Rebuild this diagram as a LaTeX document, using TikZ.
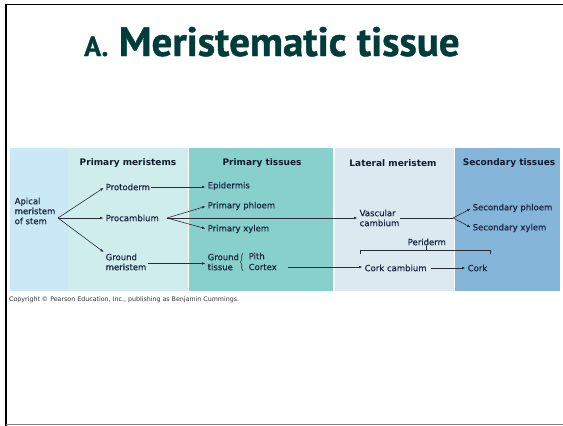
\documentclass[tikz,border=0pt]{standalone}
\usepackage{fontspec}
\setmainfont{DejaVu Sans}
\newfontfamily\titlefont[FakeBold=1]{PT Sans}
\newfontfamily\lblfont[FakeBold=0.6]{DejaVu Sans}
\usetikzlibrary{arrows.meta,calc,decorations.pathreplacing}
\definecolor{capx}{HTML}{CBE8F6}
\definecolor{cpm}{HTML}{CFEDEC}
\definecolor{cpt}{HTML}{88D0CC}
\definecolor{clm}{HTML}{DCE9F1}
\definecolor{cst}{HTML}{86B5DA}
\definecolor{ctxt}{HTML}{1A2640}
\definecolor{chd}{HTML}{131A2C}
\definecolor{cline}{HTML}{262C38}
\definecolor{ctitle}{HTML}{003D3A}

\begin{document}
\begin{tikzpicture}[
  x=1pt, y=-1pt,
  font=\lblfont\fontsize{8.5}{10}\selectfont,
  lbl/.style={anchor=west, inner sep=0.5pt, align=left, text=ctxt},
  hdr/.style={font=\rmfamily\fontsize{9}{10}\selectfont\bfseries, text=chd, inner sep=0pt},
  yields/.style={-{Latex[length=3.5pt,width=2.6pt]}, line width=0.6pt, draw=cline, shorten >=1.5pt},
  plain/.style={line width=0.6pt, draw=cline},
]
\useasboundingbox (0,0) rectangle (563,426);

% ------------------------------------------------------------------ slide frame and title
\draw[line width=2pt] (6,4) -- (6,426);
\draw[line width=1.5pt] (5,4.5) -- (563,4.5);
\draw[gray, line width=1pt] (6,424.5) -- (563,424.5);
\node[anchor=base west, inner sep=0pt, text=ctitle, font=\titlefont\bfseries\fontsize{41}{41}\selectfont]
  (title) at (84,56) {{\fontsize{28}{28}\selectfont A.} Meristematic tissue};

% ------------------------------------------------------------------ bands
\fill[capx] (10,148) rectangle (68,291);
\fill[cpm]  (68,148) rectangle (188,291);
\fill[cpt]  (189,148) rectangle (333,291);
\fill[clm]  (335,148) rectangle (454,291);
\fill[cst]  (455,148) rectangle (560,291);

\node[hdr] (hpm) at (128,163) {Primary meristems};
\node[hdr] (hpt) at (262,163) {Primary tissues};
\node[hdr] (hlm) at (393,163) {Lateral meristem};
\node[hdr] (hst) at (509,163) {Secondary tissues};

% ------------------------------------------------------------------ labels
\node[lbl] (apical)     at (14,211)  {Apical\\meristem\\of stem};
\node[lbl] (protoderm)  at (105,187) {Protoderm};
\node[lbl] (procambium) at (105,218) {Procambium};
\node[lbl] (groundm)    at (105,262) {Ground\\meristem};
\node[lbl] (epidermis)  at (207,186) {Epidermis};
\node[lbl] (pphloem)    at (207,206) {Primary phloem};
\node[lbl] (pxylem)     at (207,229) {Primary xylem};
\node[lbl] (groundt)    at (207,262) {Ground\\tissue};
\node[lbl] (pith)       at (248,256) {Pith};
\node[lbl] (cortex)     at (248,267) {Cortex};
\node[lbl] (vascular)   at (359,218) {Vascular\\cambium};
\node[lbl] (sphloem)    at (472,208) {Secondary phloem};
\node[lbl] (sxylem)     at (472,228) {Secondary xylem};
\node[lbl] (periderm)   at (407,242) {Periderm};
\node[lbl] (corkcamb)   at (364,268) {Cork cambium};
\node[lbl] (cork)       at (467,268) {Cork};

\coordinate (afan) at (58,218);
\coordinate (pfan) at (167,218);
\coordinate (vfan) at (453,218);

% ------------------------------------------------------------------ connectors
\draw[yields] (afan) -- (protoderm.west);
\draw[yields] (afan) -- (procambium.west);
\draw[yields] (afan) -- (groundm.north west);
\draw[yields] (protoderm.east) -- (protoderm.east -| epidermis.west);
\draw[yields] (pfan) -- (pphloem.west);
\draw[yields] (pfan) -- (pxylem.west);
\draw[yields] (pfan) -- (pfan -| vascular.west);
\draw[yields] ($(groundm.east)+(1,1.5)$) -- ($(groundm.east -| groundt.west)+(0,1.5)$);
\draw[yields, shorten <=11pt] (cortex.east) -- (cortex.east -| corkcamb.west);
\draw[plain] (vascular.east) -- (vfan);
\draw[yields] (vfan) -- (sphloem.west);
\draw[yields] (vfan) -- (sxylem.west);
\draw[yields, shorten <=4pt] (corkcamb.east) -- (cork.west);

% pith and cortex brace, periderm bracket
\draw[plain, decorate, decoration={brace, amplitude=2.5pt}] (243,271) -- (243,253);
\draw[plain] (360,254) -- (360,250) -- (490,250) -- (490,254);
\draw[plain] (periderm.south) -- (periderm.south |- 0,250);

\node[anchor=west, inner sep=0pt, text=black!80, font=\rmfamily\fontsize{6.3}{7}\selectfont] (copy) at (9,300)
  {Copyright \textcopyright\ Pearson Education, Inc., publishing as Benjamin Cummings.};
\end{tikzpicture}
\end{document}
